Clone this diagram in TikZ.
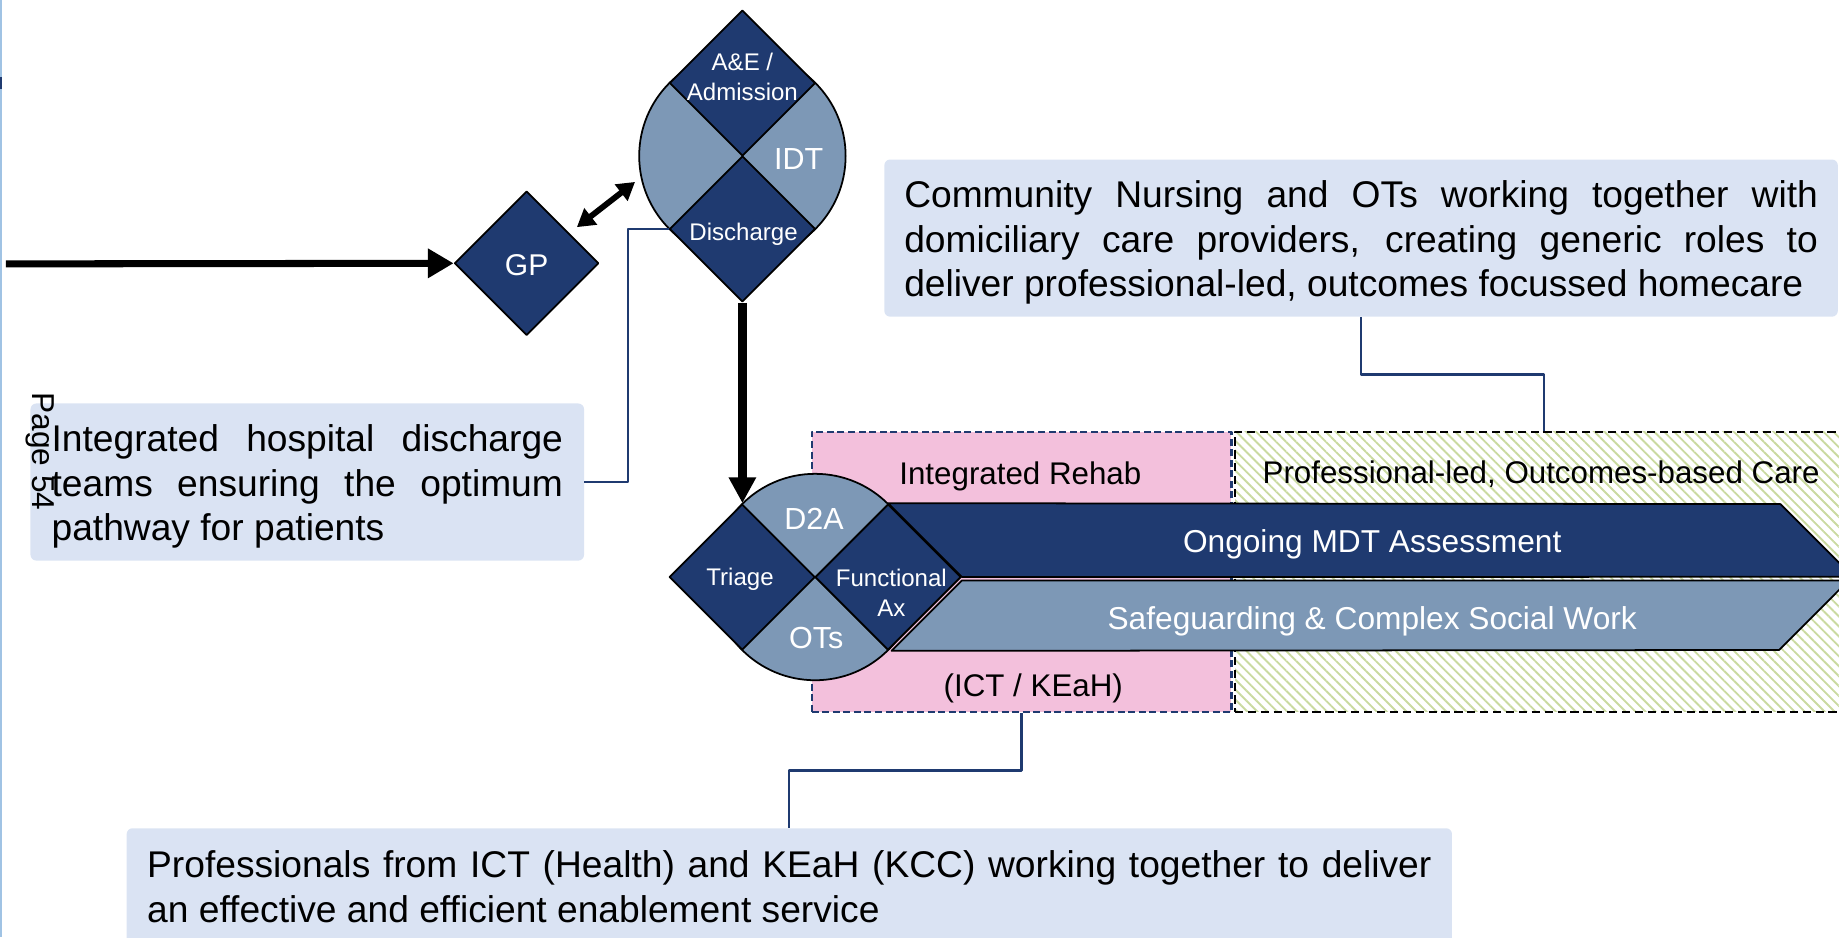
\documentclass[tikz,border=0pt]{standalone}
\usepackage{fontspec}
\setmainfont{Liberation Sans}
\usetikzlibrary{positioning}
\usetikzlibrary{shapes.geometric}
\usetikzlibrary{arrows.meta, patterns.meta, calc}

\definecolor{navy}{RGB}{31,58,112}
\definecolor{steel}{RGB}{125,152,182}
\definecolor{rehabpink}{RGB}{243,192,220}
\definecolor{callout}{RGB}{218,227,243}
\definecolor{hatchgreen}{RGB}{202,218,160}
\definecolor{edgeblue}{RGB}{160,195,228}

\begin{document}
\begin{tikzpicture}[
    x = 1pt, y = -1pt,
    line join = round,
    ]

    \tikzstyle{quad}=[
    diamond, aspect = 1,
    draw = black, line width = 1.5pt,
    fill = navy,
    minimum size = 124.4pt, inner sep = 0pt,
    ]
    \tikzstyle{leaf}=[
    circle,
    draw = black, line width = 1.5pt,
    fill = steel,
    minimum size = 176pt, inner sep = 0pt,
    ]
    \tikzstyle{note}=[
    fill = callout, rounded corners = 5pt,
    align = justify, inner xsep = 17pt,
    font = \fontsize{31.7}{38}\selectfont,
    ]
    \tikzstyle{small}=[text = white, align = center, font = \fontsize{20.5}{25}\selectfont]
    \tikzstyle{big}=[text = white, font = \fontsize{26}{30}\selectfont]
    \tikzstyle{band}=[draw = black, line width = 1.5pt]
    \tikzstyle{bandtxt}=[text = white, font = \fontsize{27}{32}\selectfont]
    \tikzstyle{regtxt}=[font = \fontsize{26.7}{32}\selectfont]
    \tikzstyle{conn}=[draw = navy, line width = 2pt]

    \useasboundingbox (0,0) rectangle (1568,799);
    \clip (0,0) rectangle (1568,799);

    % page edge
    \draw[edgeblue, line width = 1.5pt] (1,0) -- (1,799);
    \draw[navy, line width = 1.5pt] (1,66) -- (1,76);

    % callouts
    \node[note, text width = 779pt, minimum height = 134pt] (ctop) at (1160.5,203) {%
      \rule{0pt}{31pt}Community Nursing and OTs working together with\linebreak
      domiciliary care providers, creating generic roles to\linebreak
      deliver professional-led, outcomes focussed homecare};
    \node[note, text width = 436pt, minimum height = 134pt, inner xsep = 18pt] (cleft) at (262,411) {%
      \rule{0pt}{31pt}Integrated hospital discharge\linebreak
      teams ensuring the optimum\linebreak
      pathway for patients};
    \node[note, text width = 1095pt, minimum height = 100pt, inner xsep = 17.5pt, anchor = north] (cbot) at (673,706) {%
      Professionals from ICT (Health) and KEaH (KCC) working together to deliver\linebreak
      an effective and efficient enablement service};

    % regions
    \node[fill = rehabpink, draw = navy, line width = 1.8pt, dash pattern = on 6pt off 3pt,
      minimum width = 358pt, minimum height = 239pt, inner sep = 0pt] (rehab) at (871,487.5) {};
    \node[pattern = {Lines[angle = -45, distance = 6pt, line width = 1.6pt]}, pattern color = hatchgreen,
      draw = black, line width = 1.8pt, dash pattern = on 7pt off 4pt,
      minimum width = 527pt, minimum height = 239pt, inner sep = 0pt] (pcare) at (1316.5,487.5) {};
    \node[regtxt] (rehabt) at (870,406) {Integrated Rehab};
    \node[regtxt] (pcaret) at (1314,404) {Professional-led, Outcomes-based Care};
    \node[regtxt] (ictt) at (881,587) {(ICT / KEaH)};

    % lower leaf
    \node[leaf] (d2a) at (695,492) {};
    \node[quad] (tri) at (632.8,492) {};
    \node[quad] (fax) at (757.2,492) {};

    % bands
    \path[band, fill = navy] (fax.north) -- (1518,429.8) -- (1580,491.8) -- (fax.east) -- cycle;
    \path[band, fill = steel] ($(fax.east)+(0,3)$) -- (1576,495) -- (1517,554.2) -- ($(fax.south)+(3,0)$) -- cycle;
    \node[bandtxt] (mdt) at (1170,464) {Ongoing MDT Assessment};
    \node[bandtxt] (safe) at (1170,530) {Safeguarding \& Complex Social Work};

    \node[quad] at (fax) {};
    \node[big] (d2at) at (694,442) {D2A};
    \node[big] (otst) at (696,544) {OTs};
    \node[small] (trit) at (631,494) {Triage};
    \node[small] (faxt) at (760,505.5) {Functional\\Ax};

    % upper leaf
    \node[leaf] (idt) at (633,133) {};
    \node[quad] (ae) at (633,70.8) {};
    \node[quad] (dis) at (633,195.2) {};
    \node[small] (aet) at (633,65.5) {A\&E /\\Admission};
    \node[small] (dist) at (634,200) {Discharge};
    \node[big] (idtt) at (681,136) {IDT};

    % GP
    \node[quad, minimum size = 123pt] (gp) at (449,224.5) {};
    \node[text = white, font = \fontsize{25.6}{30}\selectfont] (gpt) at (449,226) {GP};

    % flow
    \coordinate (entry) at (5,225);
    \draw[line width = 6pt, -{Triangle[length = 22pt, width = 24pt]}] (entry) -- (gp.west);
    \draw[line width = 5pt, {Triangle[length = 15pt, width = 17pt]}-{Triangle[length = 15pt, width = 17pt]},
      shorten <= 6pt, shorten >= 6pt] ($(gp.north east)+(7,4)$) -- (idt.192);
    \draw[line width = 7pt, -{Triangle[length = 22pt, width = 22pt]}] (dis.south) -- (dis.south |- tri.north);

    % notes to boxes
    \draw[conn] (cleft.east) -- ++(37,0) |- (dis.west);
    \draw[conn] (ctop.south) -- ++(0,49) -| (pcare.north);
    \draw[conn] (rehab.south) -- ++(0,49) -| (cbot.north);

    \node[rotate = -90, font = \fontsize{27}{32}\selectfont] (page) at (34,385) {Page 54};
\end{tikzpicture}
\end{document}
